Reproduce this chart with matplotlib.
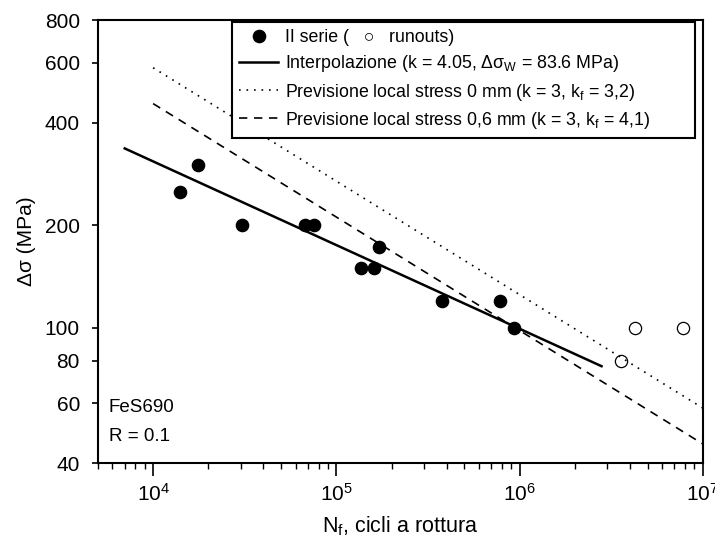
import matplotlib
matplotlib.use("Agg")
import matplotlib.pyplot as plt
from matplotlib.ticker import FixedLocator, LogLocator, NullFormatter, NullLocator

plt.rcParams['font.family'] = ['Liberation Sans', 'DejaVu Sans']
plt.rcParams['mathtext.default'] = 'regular'

# II serie - failed specimens
n_fail = [14100, 17500, 30600, 67700, 75100, 137000, 160000, 170000, 375000, 778000, 931000]
s_fail = [250, 300, 200, 200, 200, 150, 150, 173, 120, 120, 100]

# runouts
n_run = [3.57e6, 4.25e6, 7.8e6]
s_run = [80, 100, 100]

# interpolation line (k = 4.05)
n_fit = [7000, 2.8e6]
s_fit = [336, 77]

# local stress predictions (k = 3)
n_pred = [1e4, 1e7]
s_pred_0 = [580, 58]
s_pred_06 = [455, 45.5]

y_ticks = [40, 60, 80, 100, 200, 400, 600, 800]

fig = plt.figure(figsize=(7.15, 5.46), dpi=100)
ax = fig.add_axes([0.137, 0.152, 0.846, 0.811])

ax.plot(n_fail, s_fail, 'o', color='black', markersize=8.8, linestyle='none',
        label='II serie (   \u25cb   runouts)')
ax.plot(n_run, s_run, 'o', markerfacecolor='none', markeredgecolor='black',
        markeredgewidth=0.9, markersize=8.8, linestyle='none')
ax.plot(n_fit, s_fit, '-', color='black', lw=1.8,
        label='Interpolazione (k = 4.05, \u0394\u03c3$_{W}$ = 83.6 MPa)')
ax.plot(n_pred, s_pred_0, color='black', lw=1.2, linestyle=(0, (1, 3.5)),
        label='Previsione local stress 0 mm (k = 3, k$_{f}$ = 3,2)')
ax.plot(n_pred, s_pred_06, color='black', lw=1.2, linestyle=(0, (5, 4)),
        label='Previsione local stress 0,6 mm (k = 3, k$_{f}$ = 4,1)')

ax.set_xscale('log')
ax.set_yscale('log')
ax.set_xlim(5000, 1e7)
ax.set_ylim(40, 800)

ax.yaxis.set_major_locator(FixedLocator(y_ticks))
ax.yaxis.set_major_formatter(plt.FixedFormatter([str(t) for t in y_ticks]))
ax.yaxis.set_minor_locator(NullLocator())
ax.xaxis.set_major_locator(LogLocator(base=10, numticks=10))
ax.xaxis.set_minor_locator(LogLocator(base=10, subs=range(2, 10), numticks=20))
ax.xaxis.set_minor_formatter(NullFormatter())

ax.tick_params(axis='both', which='major', labelsize=15, direction='out', width=1.2)
ax.tick_params(axis='x', which='major', length=9, pad=5)
ax.tick_params(axis='x', which='minor', length=4, width=1.0)
ax.tick_params(axis='y', which='major', length=4, pad=9)
for sp in ax.spines.values():
    sp.set_linewidth(1.5)

ax.set_xlabel('N$_{f}$, cicli a rottura', fontsize=15.5, labelpad=7)
ax.set_ylabel('\u0394\u03c3 (MPa)', fontsize=15, labelpad=6)

ax.text(0.018, 0.125, 'FeS690', transform=ax.transAxes, fontsize=13.5, va='center')
ax.text(0.018, 0.06, 'R = 0.1', transform=ax.transAxes, fontsize=13.5, va='center')

leg = ax.legend(loc='upper left', bbox_to_anchor=(0.2215, 0.5, 0.765, 0.4955),
                mode='expand', borderaxespad=0,
                fontsize=12.8, frameon=True, fancybox=False, edgecolor='black',
                handlelength=2.2, handletextpad=0.4, labelspacing=0.4,
                borderpad=0.4, framealpha=1)
leg.get_frame().set_linewidth(1.5)

plt.savefig('out.png', dpi=100)
